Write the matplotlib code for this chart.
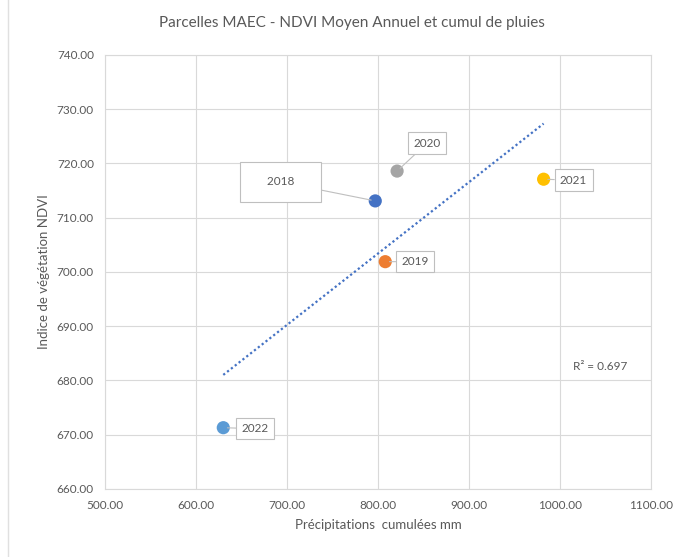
import numpy as np
import matplotlib.pyplot as plt

# ------------------------------------------------------------
# Data
# ------------------------------------------------------------
years = ["2018", "2019", "2020", "2021", "2022"]
rain_mm = [797, 808, 821, 982, 630]
ndvi = [713.1, 701.9, 718.6, 717.1, 671.3]
colors = ["#4472C4", "#ED7D31", "#A5A5A5", "#FFC000", "#5B9BD5"]

x_ticks = [500, 600, 700, 800, 900, 1000, 1100]
y_ticks = [660, 670, 680, 690, 700, 710, 720, 730, 740]
r2_text = "R² = 0.697"

# label offsets in pixels (dx, dy) from each point
label_offsets = {"2018": (-95, 19), "2019": (30, 0), "2020": (30, 28),
                 "2021": (30, -1), "2022": (32, -1)}

plt.rcParams['font.family'] = ['Lato', 'DejaVu Sans']
text_col = "#595959"
grid_col = "#D9D9D9"

fig = plt.figure(figsize=(6.76, 5.57), dpi=100)
ax = fig.add_axes([0.1553, 0.1221, 0.963 - 0.1553, 0.9013 - 0.1221])

# trendline (linear fit over data range)
coef = np.polyfit(rain_mm, ndvi, 1)
xs = np.array([min(rain_mm), max(rain_mm)])
ax.plot(xs, np.polyval(coef, xs), linestyle=(0, (1, 1.2)), color="#4472C4",
        linewidth=1.6, zorder=2)

# points
for yr, x, y, c in zip(years, rain_mm, ndvi, colors):
    ax.scatter(x, y, s=90, color=c, zorder=3, edgecolors="none")
    dx, dy = label_offsets[yr]
    if yr == "2018":
        box = "square,pad=1.25"
        txt = "    2018    "
    else:
        box = "square,pad=0.45"
        txt = yr
    ax.annotate(txt, (x, y), xytext=(dx * 0.72, dy * 0.72), textcoords="offset points",
                ha="center", va="center", fontsize=8.5, color=text_col, zorder=4,
                bbox=dict(boxstyle=box, fc="white", ec="#BFBFBF", lw=0.8),
                arrowprops=dict(arrowstyle="-", color="#BFBFBF", lw=0.8,
                                shrinkA=0, shrinkB=3))

ax.text(1044, 682.6, r2_text, fontsize=8.5, color=text_col, ha="center", va="center")

ax.set_xlim(500, 1100)
ax.set_ylim(660, 740)
ax.set_xticks(x_ticks)
ax.set_yticks(y_ticks)
ax.set_xticklabels([f"{v:.2f}" for v in x_ticks])
ax.set_yticklabels([f"{v:.2f}" for v in y_ticks])
ax.tick_params(length=0, labelsize=8.5, colors=text_col, pad=8)
ax.grid(True, color=grid_col, linewidth=0.8)
ax.set_axisbelow(True)
for sp in ax.spines.values():
    sp.set_color(grid_col)
    sp.set_linewidth(0.8)

ax.set_xlabel("Précipitations  cumulées mm", fontsize=9.5, color=text_col, labelpad=6)
ax.set_ylabel("Indice de végétation NDVI", fontsize=9.5, color=text_col, labelpad=5)
fig.text(0.52, 0.958, "Parcelles MAEC - NDVI Moyen Annuel et cumul de pluies",
         ha="center", va="center", fontsize=11, color=text_col)

# left edge of the chart frame
fig.add_artist(plt.Line2D([8 / 676, 8 / 676], [0, 1], color="#E0E0E0", lw=1))

fig.savefig("out.png", dpi=100)
